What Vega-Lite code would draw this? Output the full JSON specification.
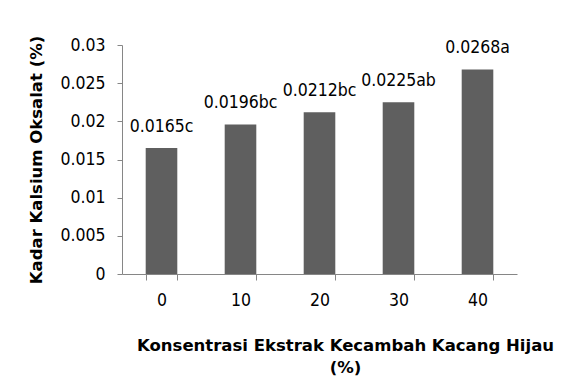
{
  "$schema": "https://vega.github.io/schema/vega-lite/v6.json",
  "autosize": "none",
  "width": 395,
  "height": 229,
  "padding": {"left": 122, "top": 45, "right": 53, "bottom": 107},
  "background": "white",
  "config": {"view": {"stroke": null}, "font": "DejaVu Sans Condensed"},
  "data": {"values": [
    {"k": "0", "v": 0.0165, "lab": "0.0165c"},
    {"k": "10", "v": 0.0196, "lab": "0.0196bc"},
    {"k": "20", "v": 0.0212, "lab": "0.0212bc"},
    {"k": "30", "v": 0.0225, "lab": "0.0225ab"},
    {"k": "40", "v": 0.0268, "lab": "0.0268a"}
  ]},
  "encoding": {
    "x": {"field": "k", "type": "ordinal", "sort": null,
      "scale": {"paddingInner": 0.6, "paddingOuter": 0.3},
      "axis": {"title": ["Konsentrasi Ekstrak Kecambah Kacang Hijau", "(%)"], "labelAngle": 0, "tickBand": "extent",
        "domainColor": "#868686", "tickColor": "#868686", "tickSize": 6, "labelFont": "DejaVu Sans Condensed", "labelFontSize": 17.5, "labelColor": "#000", "labelPadding": 11,
        "titleFont": "DejaVu Sans", "titleFontWeight": "bold", "titleFontSize": 16.5, "titleColor": "#000", "titlePadding": 29, "titleX": 223, "titleLineHeight": 22}},
    "y": {"field": "v", "type": "quantitative",
      "scale": {"domain": [0, 0.03]},
      "axis": {"title": "Kadar Kalsium Oksalat (%)", "values": [0, 0.005, 0.01, 0.015, 0.02, 0.025, 0.03], "format": "~g", "grid": false,
        "domainColor": "#868686", "tickColor": "#868686", "tickSize": 5, "labelFont": "DejaVu Sans Condensed", "labelFontSize": 17.5, "labelColor": "#000", "labelPadding": 12,
        "titleFont": "DejaVu Sans", "titleFontWeight": "bold", "titleFontSize": 16.5, "titleColor": "#000", "titlePadding": 15}}
  },
  "layer": [
    {"mark": {"type": "bar", "color": "#5f5f5f"}},
    {"mark": {"type": "text", "dy": -16, "baseline": "alphabetic", "fontSize": 17.5, "font": "DejaVu Sans Condensed", "color": "#000"},
      "encoding": {"text": {"field": "lab"}}}
  ]
}
